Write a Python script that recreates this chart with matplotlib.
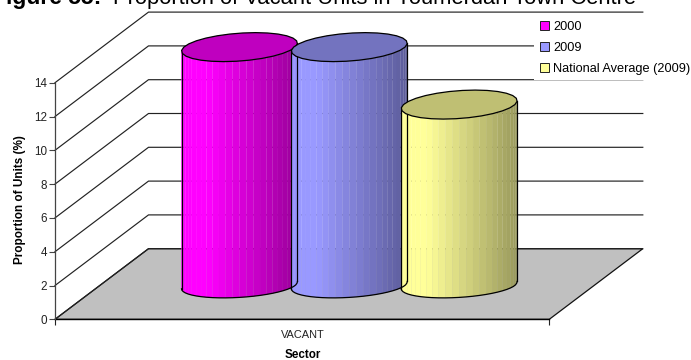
import numpy as np
import matplotlib
matplotlib.use('Agg')
import matplotlib.pyplot as plt
from matplotlib.patches import Patch

plt.rcParams['font.family'] = ['Liberation Sans', 'DejaVu Sans']

# our values:
sector = 'VACANT'
series = ['2000', '2009', 'National Average (2009)']
values = [14.1, 14.1, 10.7]
colors = [(1.0, 0.0, 1.0), (0.6, 0.6, 1.0), (1.0, 1.0, 0.6)]
y_ticks = [0, 2, 4, 6, 8, 10, 12, 14]

# the axes fill the figure: x runs in pixels, y in percent
px_per_unit = 16.9
y_zero = 319.3
left, right = 55, 549.3
depth_x, depth_y = 93.5, 70.6 / px_per_unit
centres = [239.5, 349.3, 459.2]


def shade(col, f):
    # flat highlight on the left, falling off to the right edge
    k = 1.0 if f < 0.22 else 1.0 - 0.4 * (f - 0.22) / 0.78
    return tuple(c * k for c in col)


def cylinder(ax, cx, value, col):
    base = 0.48 * depth_y
    a, sx, b = 55.7, 16.0, 14.5 / px_per_unit
    t0 = np.arctan2(-sx, -a)
    # front half of the rim, left tangent to right tangent
    t = np.linspace(t0, t0 + np.pi, 27)
    xs = cx + a * np.cos(t) + sx * np.sin(t)
    ys = b * np.sin(t)
    # lower rim is a little flatter than the top one
    low = np.where(ys < 0, ys * 0.86, ys)
    for i in range(len(t) - 1):
        f = (xs[i] + xs[i + 1] - 2 * xs[0]) / 2 / (xs[-1] - xs[0])
        ax.fill([xs[i], xs[i + 1], xs[i + 1], xs[i]],
                [base + low[i], base + low[i + 1], base + value + ys[i + 1], base + value + ys[i]],
                facecolor=shade(col, f), edgecolor=shade(col, f), lw=0.15, zorder=3)
    ax.plot(xs, base + low, color='black', lw=0.9, zorder=4)
    ax.plot([xs[0], xs[0]], [base + low[0], base + value + ys[0]], color='black', lw=0.9, zorder=4)
    ax.plot([xs[-1], xs[-1]], [base + low[-1], base + value + ys[-1]], color='black', lw=0.9, zorder=4)
    # top face
    t = np.linspace(0, 2 * np.pi, 29)
    ax.fill(cx + a * np.cos(t) + sx * np.sin(t), base + value + b * np.sin(t),
            facecolor=tuple(c * 0.75 for c in col), edgecolor='black', lw=0.9, zorder=4)


fig = plt.figure(figsize=(6.91, 3.6), dpi=100)
ax = fig.add_axes([0, 0, 1, 1])
ax.set_xlim(0, 691)
ax.set_ylim((y_zero - 360) / px_per_unit, y_zero / px_per_unit)
ax.patch.set_alpha(0)

# floor and walls
ax.fill([left, left + depth_x, right + depth_x, right], [0, depth_y, depth_y, 0],
        facecolor='#c0c0c0', edgecolor='#111111', lw=0.9, zorder=1)
for v in y_ticks:
    ax.plot([left, left + depth_x, right + depth_x], [v, v + depth_y, v + depth_y],
            color='#222222', lw=0.85, zorder=2 if v else 1)
ax.plot([left, right], [0, 0], color='black', lw=1.0, zorder=2)

for cx, v, col in zip(centres, values, colors):
    cylinder(ax, cx, v, col)

for name in ['top', 'right', 'bottom']:
    ax.spines[name].set_visible(False)
ax.spines['left'].set_position(('data', left))
ax.spines['left'].set_bounds(0, y_ticks[-1])
ax.spines['left'].set_color('#444444')
ax.spines['left'].set_linewidth(0.9)
ax.set_yticks(y_ticks)
ax.tick_params(axis='y', length=4, width=0.8, color='#444444', labelsize=8.4, pad=1.5, labelcolor='#222222')

# x axis ticks only at the ends, the category label sits between them
ax.spines['bottom'].set_position(('data', 0))
ax.set_xticks([left, right])
ax.set_xticklabels(['', ''])
ax.tick_params(axis='x', length=4.5, width=0.8, color='#222222')
ax.set_xticks([303], minor=True)
ax.set_xticklabels([sector], minor=True, fontsize=7.9, color='#222222')
ax.tick_params(axis='x', which='minor', length=0, pad=7.5)

ax.text(303, (y_zero - 358.5) / px_per_unit, 'Sector', fontsize=8.4, fontweight='bold',
        ha='center', va='baseline')
ax.text(20.5, 7.1, 'Proportion of Units (%)', fontsize=8.5, fontweight='bold',
        rotation=90, ha='center', va='center')

# title runs off the top edge
title_y = (y_zero - 4) / px_per_unit
ax.text(-8, title_y, 'Figure 55:', fontsize=16.5, fontweight='bold',
        ha='left', va='baseline', clip_on=False)
ax.text(113, title_y, 'Proportion of Vacant Units in Youmerdah Town Centre',
        fontsize=15.8, ha='left', va='baseline', clip_on=False)

handles = [Patch(facecolor=c, edgecolor='#222222', lw=0.7) for c in colors]
leg = ax.legend(handles, series, loc='upper left', bbox_to_anchor=(534 / 691, 1 - 15.5 / 360),
                fontsize=9.2, frameon=True, facecolor='white', edgecolor='none', framealpha=1,
                fancybox=False, handlelength=0.7, handleheight=0.7, handletextpad=0.35,
                labelspacing=0.68, borderaxespad=0, borderpad=0.45)
leg.set_zorder(2.5)

fig.savefig('out.png', dpi=100)
